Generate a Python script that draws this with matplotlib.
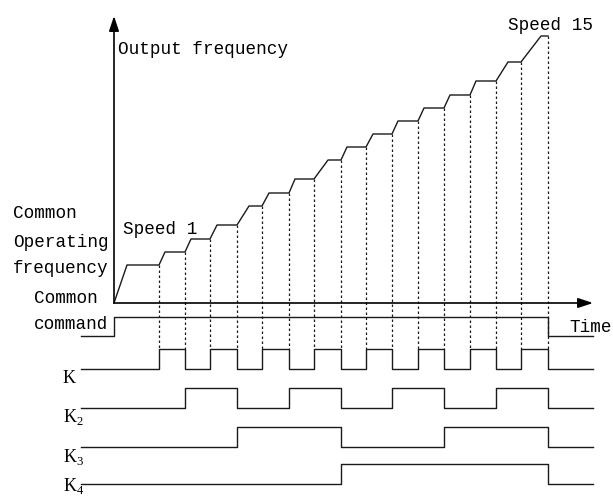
import matplotlib.pyplot as plt

plt.rcParams['font.family'] = ['Liberation Mono', 'DejaVu Sans Mono']
plt.rcParams['mathtext.fontset'] = 'custom'
plt.rcParams['mathtext.rm'] = 'Liberation Serif'

# time instants where speed 1..15 start, last one = end of speed 15
switch_t = [45, 71, 96, 123, 148, 175, 200, 227, 252, 278, 304, 330, 356, 382, 407, 434]
# time where the ramp up to each level is finished (level 0 = common operating freq)
ramp_end_t = [13, 51, 77, 103, 135, 155, 181, 214, 233, 259, 284, 310, 336, 362, 394, 427]
freq_level = [38, 51, 64, 78, 97, 110, 124, 143, 156, 169, 182, 195, 208, 222, 241, 267]

# multi-speed terminal states for speed 1..15
K1 = [1, 0, 1, 0, 1, 0, 1, 0, 1, 0, 1, 0, 1, 0, 1]
K2 = [0, 1, 1, 0, 0, 1, 1, 0, 0, 1, 1, 0, 0, 1, 1]
K3 = [0, 0, 0, 1, 1, 1, 1, 0, 0, 0, 0, 1, 1, 1, 1]
K4 = [0, 0, 0, 0, 0, 0, 0, 1, 1, 1, 1, 1, 1, 1, 1]
k_labels = ['K', r'K$_{2}$', r'K$_{3}$', r'K$_{4}$']

t_start, t_end = -33, 479
cmd_base, cmd_high = -33, 19
k_base = [-66, -105, -144, -181]
k_high = 20

fig = plt.figure(figsize=(6.13, 4.96), dpi=100)
ax = fig.add_axes([0, 0, 1, 1])
ax.set_xlim(-114, 499)
ax.set_ylim(-193, 303)
ax.axis('off')

line_c = '#1a1a1a'

# axes with arrows
arrow = dict(arrowstyle='-|>,head_length=0.9,head_width=0.3', color='black',
             lw=1.2, shrinkA=0, shrinkB=0, mutation_scale=10)
ax.annotate('', xy=(0, 287), xytext=(0, 0), arrowprops=arrow)
ax.annotate('', xy=(t_end, 0), xytext=(0, 0), arrowprops=arrow)

# output frequency staircase
fx, fy = [0], [0]
for r, s, lv in zip(ramp_end_t, switch_t, freq_level):
    fx += [r, s]
    fy += [lv, lv]
ax.plot(fx, fy, color=line_c, lw=1.0)

# dashed guides from each step down to the K row
for s, lv in zip(switch_t, freq_level):
    ax.plot([s, s], [lv, k_base[0] + k_high], color=line_c, lw=0.9,
            linestyle=(0, (2, 2)))

# common command
ax.step([t_start, 0, switch_t[-1], t_end],
        [cmd_base, cmd_base + cmd_high, cmd_base, cmd_base],
        where='post', color=line_c, lw=1.0)

# K signals
xs = [t_start] + switch_t + [t_end]
for base, bits in zip(k_base, [K1, K2, K3, K4]):
    ys = [base] + [base + b * k_high for b in bits] + [base, base]
    ax.step(xs, ys, where='post', color=line_c, lw=1.0)

# texts
fs = 12.7
ax.text(4, 249, 'Output frequency', fontsize=fs, va='baseline')
ax.text(394, 273, 'Speed 15', fontsize=fs, va='baseline')
ax.text(9, 69, 'Speed 1', fontsize=fs, va='baseline')
ax.text(-101, 85, 'Common', fontsize=fs, va='baseline')
ax.text(-101, 56, 'Operating', fontsize=fs, va='baseline')
ax.text(-101, 30, 'frequency', fontsize=fs, va='baseline')
ax.text(-16, 0, 'Common', fontsize=fs, va='baseline', ha='right')
ax.text(-6, -26, 'command', fontsize=fs, va='baseline', ha='right')
ax.text(455, -29, 'Time', fontsize=fs, va='baseline')

k_text_y = [-80, -119, -159, -188]
for lab, y in zip(k_labels, k_text_y):
    ax.text(-51, y, lab, fontsize=13, va='baseline', family='Liberation Serif')

fig.savefig('out.png', dpi=100)
